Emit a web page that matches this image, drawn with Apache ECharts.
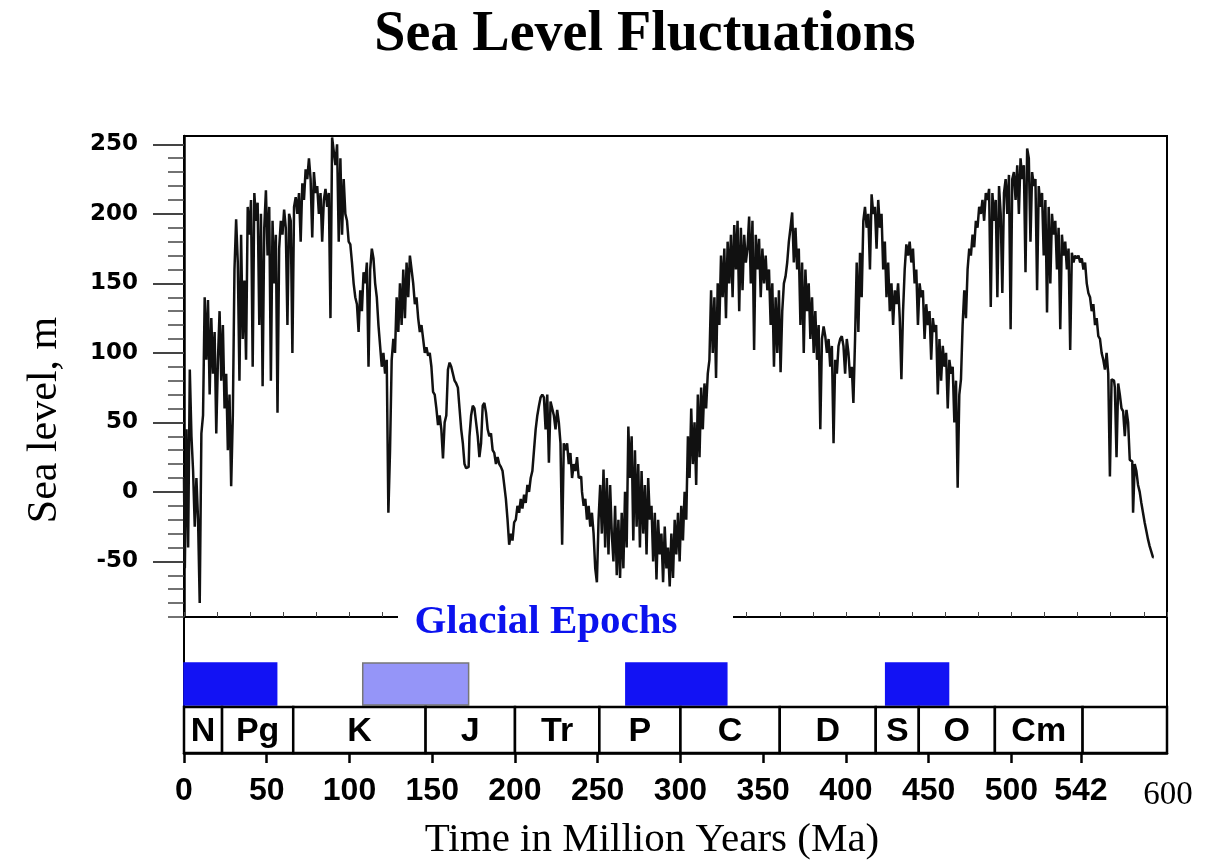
<!DOCTYPE html>
<html>
<head>
<meta charset="utf-8">
<title>Sea Level Fluctuations</title>
<script src="https://cdn.jsdelivr.net/npm/echarts@6/dist/echarts.min.js"></script>
<style>
  html, body { margin: 0; padding: 0; background: #fff; }
  #chart { width: 1207px; height: 862px; }
</style>
</head>
<body>
<div id="chart"></div>
<script>
// sea level readings (m), one every AGE_STEP Ma, starting at 0 Ma
const AGE_STEP = 1;
const level000 = [
  10, -55, 45, -40, 88, 40, 15, -25, 10, -20,
  -80, 42, 55, 140, 95, 138, 70, 125, 85, 115,
  42, 95, 130, 80, 120, 60, 85, 30, 70, 4,
  55, 160, 196, 165, 80, 185, 110, 152, 95, 205,
  185, 210, 90, 215, 195, 208, 120, 200, 76, 190,
  217, 170, 205, 80, 195, 150, 185, 57, 175, 195,
  185, 203, 190, 120, 200, 195, 100, 205, 212, 200,
  215, 180, 222, 210, 232, 225, 240, 225, 183, 230,
  215, 220, 200, 215, 180, 210, 218, 205, 215, 125,
  255, 245, 235, 250, 180, 240, 185, 225, 200, 195
];
const level100 = [
  180, 178, 165, 150, 140, 135, 115, 145, 130, 158,
  150, 165, 90, 160, 175, 168, 150, 140, 120, 105,
  90, 100, 85, 95, -15, 30, 95, 110, 100, 140,
  115, 150, 120, 160, 125, 165, 140, 170, 160, 150,
  135, 140, 125, 115, 120, 110, 100, 104, 98, 100,
  90, 72, 70, 60, 48, 55, 45, 24, 50, 55,
  88, 93, 90, 85, 80, 78, 75, 60, 45, 35,
  20, 17, 18, 40, 55, 62, 60, 50, 40, 25,
  35, 62, 64, 57, 45, 40, 42, 30, 28, 20,
  25, 20, 18, 15, 5, -5, -20, -38, -30, -35
];
const level200 = [
  -22, -20, -10, -15, -5, -12, -2, -8, 5, 0,
  10, 15, 30, 45, 55, 62, 68, 70, 68, 45,
  70, 21, 65, 60, 55, 45, 59, 50, 35, -38,
  35, 30, 35, 20, 28, 10, 20, 15, 25, 10,
  11, 0, -10, -5, -20, -10, -25, -15, -30, -55,
  -65, -20, 5, -30, 16, -40, 10, -45, 5, -30,
  -50, -10, -60, -20, -62, -15, -55, 0, -40, 47,
  10, 40, -35, 30, -25, 20, -40, 15, -30, 5,
  -45, 10, -20, -10, -50, -15, -63, -20, -45, -30,
  -65, -25, -55, -40, -68, -30, -62, -20, -45, -15
];
const level300 = [
  -50, -10, -35, 0, -20, 40, 10, 60, 20, 50,
  5, 70, 25, 75, 45, 78, 60, 85, 95, 145,
  100, 140, 82, 150, 120, 170, 140, 175, 125, 180,
  150, 185, 140, 192, 160, 195, 130, 190, 145, 185,
  165, 175, 198, 150, 195, 102, 185, 160, 182, 140,
  175, 150, 170, 145, 160, 120, 150, 90, 140, 100,
  145, 86, 130, 150, 155, 165, 180, 190, 201, 165,
  190, 160, 175, 120, 165, 100, 160, 130, 150, 110,
  140, 100, 130, 95, 120, 45, 110, 119, 112, 100,
  110, 90, 105, 35, 95, 85, 105, 110, 112, 105
];
const level400 = [
  85, 110, 100, 82, 90, 64, 110, 165, 115, 172,
  140, 195, 205, 190, 200, 160, 214, 200, 205, 175,
  210, 190, 200, 160, 180, 140, 165, 130, 150, 120,
  145, 135, 150, 125, 81, 130, 160, 178, 170, 180,
  165, 175, 150, 160, 120, 150, 140, 145, 110, 135,
  120, 130, 95, 125, 115, 120, 70, 110, 80, 105,
  90, 100, 60, 95, 85, 90, 50, 80, 3, 70,
  81, 120, 145, 125, 160, 175, 170, 185, 176, 195,
  190, 205, 200, 210, 195, 215, 210, 218, 133, 215,
  195, 210, 140, 220, 200, 143, 215, 225, 200, 228
];
const level500 = [
  117, 225, 230, 210, 235, 200, 240, 225, 235, 158,
  247, 240, 180, 230, 220, 225, 145, 220, 205, 215,
  170, 210, 129, 205, 150, 200, 185, 195, 160, 190,
  117, 185, 170, 180, 160, 175, 102, 172, 165, 170,
  168, 170, 165, 168, 160, 165, 150, 143, 140, 130,
  135, 120, 125, 112, 110, 100, 95, 88, 100, 85,
  11, 81, 80, 75, 25, 78, 70, 60, 58, 40,
  59, 50, 23, 22, -15, 20, 15, 5, 0, -8,
  -15, -22, -28, -34, -39, -43, -47
];

const xTickValues = [0, 50, 100, 150, 200, 250, 300, 350, 400, 450, 500, 542];
const yMajorTicks = [-50, 0, 50, 100, 150, 200, 250];
const yMinorTicks = [-90, -80, -70, -60, -50, -40, -30, -20, -10, 0, 10, 20, 30, 40, 50, 60, 70, 80, 90,
  100, 110, 120, 130, 140, 150, 160, 170, 180, 190, 200, 210, 220, 230, 240, 250];

const periodNames = ['N', 'Pg', 'K', 'J', 'Tr', 'P', 'C', 'D', 'S', 'O', 'Cm', ''];
const periodBounds = [0, 23, 66, 146, 200, 251, 300, 360, 418, 444, 490, 543, 594];

const glacialStart = [0, 108, 267, 424];
const glacialEnd = [56, 172, 328, 462];
const glacialKind = ['major', 'minor', 'major', 'major'];

const AGE_MAX = 594;
const BAND_HEIGHT = 136;   // lower strip, in its own y units (px)
const BOX_TOP = 46;
const GLACIAL_BOTTOM = 48;
const GLACIAL_TOP = 90;

const seaLevel = [].concat(level000, level100, level200, level300, level400, level500);
const seaData = seaLevel.map((v, i) => [i * AGE_STEP, v]);

const glacialData = glacialStart.map((s, i) => [s, glacialEnd[i]]);
const periodData = periodNames.map((n, i) => [periodBounds[i], periodBounds[i + 1]]);

const SANS = '"Liberation Sans", Arial, sans-serif';
const SERIF = '"Liberation Serif", "DejaVu Serif", serif';

const chart = echarts.init(document.getElementById('chart'));

const renderGlacial = (params, api) => {
  const p0 = api.coord([api.value(0), GLACIAL_TOP]);
  const p1 = api.coord([api.value(1), GLACIAL_BOTTOM]);
  const minor = glacialKind[params.dataIndex] === 'minor';
  return {
    type: 'rect',
    shape: { x: p0[0], y: p0[1], width: p1[0] - p0[0], height: p1[1] - p0[1] },
    style: {
      fill: minor ? '#9595f8' : '#1212f4',
      stroke: minor ? '#777' : '#1212f4',
      lineWidth: 1.5
    }
  };
};

const renderPeriod = (params, api) => {
  const p0 = api.coord([api.value(0), BOX_TOP]);
  const p1 = api.coord([api.value(1), 0]);
  return {
    type: 'group',
    children: [{
      type: 'rect',
      shape: { x: p0[0], y: p0[1], width: p1[0] - p0[0], height: p1[1] - p0[1] },
      style: { fill: '#fff', stroke: '#000', lineWidth: 2.5 }
    }, {
      type: 'text',
      style: {
        text: periodNames[params.dataIndex],
        x: (p0[0] + p1[0]) / 2,
        y: (p0[1] + p1[1]) / 2 + 2,
        align: 'center',
        verticalAlign: 'middle',
        fontFamily: SANS,
        fontWeight: 'bold',
        fontSize: 34,
        fill: '#000'
      }
    }]
  };
};

const option = {
  animation: false,
  backgroundColor: '#fff',
  grid: [
    { left: 184, right: 40, top: 136, height: 481, show: true, borderColor: '#000', borderWidth: 2 },
    { left: 184, right: 40, top: 617, height: BAND_HEIGHT, show: true, borderColor: '#000', borderWidth: 2 }
  ],
  xAxis: [{
    gridIndex: 0,
    type: 'value',
    min: 0,
    max: AGE_MAX,
    interval: 20,
    axisLine: { onZero: false, lineStyle: { color: '#000', width: 1.5 } },
    axisTick: { inside: true, length: 5, lineStyle: { color: '#444' } },
    axisLabel: { show: false },
    splitLine: { show: false }
  }, {
    gridIndex: 1,
    type: 'value',
    min: 0,
    max: AGE_MAX,
    axisLine: { onZero: false, lineStyle: { color: '#000', width: 2.5 } },
    axisTick: { customValues: xTickValues, length: 10, lineStyle: { color: '#000', width: 2.5 } },
    axisLabel: {
      customValues: xTickValues,
      margin: 22,
      color: '#000',
      fontFamily: SANS,
      fontWeight: 'bold',
      fontSize: 32
    },
    splitLine: { show: false }
  }],
  yAxis: [{
    gridIndex: 0,
    type: 'value',
    min: -90,
    max: 256,
    axisLine: { show: true, lineStyle: { color: '#000', width: 2.5 } },
    axisTick: { customValues: yMajorTicks, length: 31, lineStyle: { color: '#444', width: 2 } },
    axisLabel: {
      customValues: yMajorTicks,
      margin: 46,
      color: '#000',
      fontFamily: '"DejaVu Sans", sans-serif',
      fontWeight: 'bold',
      fontSize: 23
    },
    splitLine: { show: false }
  }, {
    gridIndex: 0,
    type: 'value',
    position: 'left',
    min: -90,
    max: 256,
    axisLine: { show: false },
    axisTick: { customValues: yMinorTicks, length: 16, lineStyle: { color: '#444', width: 1.5 } },
    axisLabel: { show: false },
    splitLine: { show: false }
  }, {
    gridIndex: 1,
    type: 'value',
    min: 0,
    max: BAND_HEIGHT,
    show: false
  }],
  series: [{
    name: 'Sea level',
    type: 'line',
    xAxisIndex: 0,
    yAxisIndex: 0,
    data: seaData,
    step: 'middle',
    showSymbol: false,
    clip: true,
    lineStyle: { color: '#111', width: 2.5 }
  }, {
    name: 'Glacial epochs',
    type: 'custom',
    xAxisIndex: 1,
    yAxisIndex: 2,
    data: glacialData,
    encode: { x: [0, 1] },
    renderItem: renderGlacial
  }, {
    name: 'Periods',
    type: 'custom',
    xAxisIndex: 1,
    yAxisIndex: 2,
    data: periodData,
    encode: { x: [0, 1] },
    renderItem: renderPeriod
  }],
  graphic: [{
    type: 'text',
    x: 645,
    y: 36,
    style: {
      text: 'Sea Level Fluctuations',
      align: 'center',
      verticalAlign: 'middle',
      fontFamily: SERIF,
      fontWeight: 'bold',
      fontSize: 56,
      fill: '#000'
    }
  }, {
    type: 'text',
    x: 45,
    y: 420,
    rotation: Math.PI / 2,
    style: {
      text: 'Sea level, m',
      align: 'center',
      verticalAlign: 'middle',
      fontFamily: SERIF,
      fontSize: 42,
      fill: '#000'
    }
  }, {
    type: 'rect',
    z: 100,
    shape: { x: 398, y: 612, width: 335, height: 10 },
    style: { fill: '#fff' }
  }, {
    type: 'text',
    z: 101,
    x: 546,
    y: 622,
    style: {
      text: 'Glacial Epochs',
      align: 'center',
      verticalAlign: 'middle',
      fontFamily: SERIF,
      fontWeight: 'bold',
      fontSize: 41,
      fill: '#0b12ee'
    }
  }, {
    type: 'text',
    x: 1168,
    y: 795,
    style: {
      text: '600',
      align: 'center',
      verticalAlign: 'middle',
      fontFamily: SERIF,
      fontSize: 33,
      fill: '#000'
    }
  }, {
    type: 'text',
    x: 652,
    y: 840,
    style: {
      text: 'Time in Million Years (Ma)',
      align: 'center',
      verticalAlign: 'middle',
      fontFamily: SERIF,
      fontSize: 41,
      fill: '#000'
    }
  }]
};

chart.setOption(option);
</script>
</body>
</html>
